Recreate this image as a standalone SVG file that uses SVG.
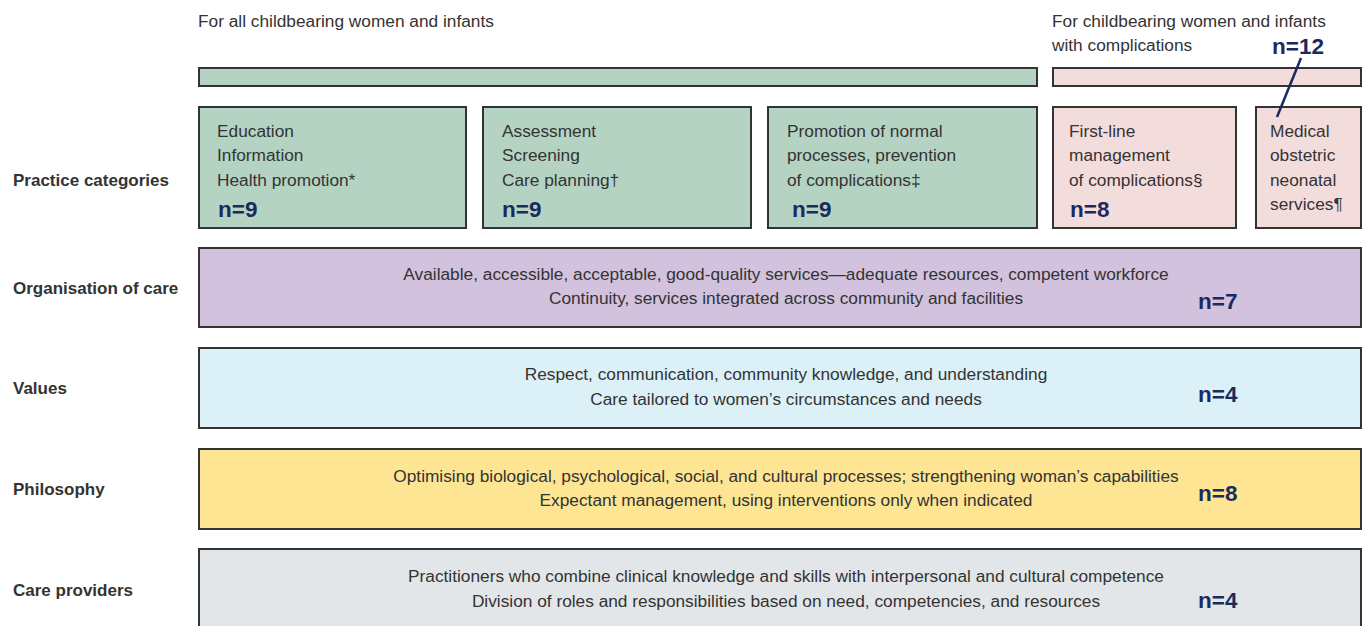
<svg xmlns="http://www.w3.org/2000/svg" width="1365" height="626" viewBox="0 0 1365 626">
<style>
text{font-family:"Liberation Sans",Arial,sans-serif;fill:#333;}
.t{font-size:17.3px;}
.lab{font-size:17px;font-weight:bold;fill:#333;}
.n{font-size:22.5px;font-weight:bold;fill:#1b2a5e;}
.c{text-anchor:middle;}
.b{stroke:#333;stroke-width:2;}
.g{fill:#b5d3c2;}
.p{fill:#f3dcdc;}
</style>
<rect width="1365" height="626" fill="#fff"/>
<g id="headers">
<text class="t" x="198" y="27">For all childbearing women and infants</text>
<text class="t" x="1052" y="27">For childbearing women and infants</text>
<text class="t" x="1052" y="51">with complications</text>
<rect class="b g" x="199" y="68" width="838" height="18"/>
<rect class="b p" x="1053" y="68" width="308" height="18"/>
</g>
<g id="labels">
<text class="lab" x="13" y="186">Practice categories</text>
<text class="lab" x="13" y="294">Organisation of care</text>
<text class="lab" x="13" y="394">Values</text>
<text class="lab" x="13" y="495">Philosophy</text>
<text class="lab" x="13" y="596">Care providers</text>
</g>
<g id="box-education">
<rect class="b g" x="199" y="107" width="267" height="121"/>
<text class="t" x="217" y="137">Education</text>
<text class="t" x="217" y="161">Information</text>
<text class="t" x="217" y="186">Health promotion*</text>
<text class="n" x="218" y="217">n=9</text>
</g>
<g id="box-assessment">
<rect class="b g" x="483" y="107" width="268" height="121"/>
<text class="t" x="502" y="137">Assessment</text>
<text class="t" x="502" y="161">Screening</text>
<text class="t" x="502" y="186">Care planning†</text>
<text class="n" x="502" y="217">n=9</text>
</g>
<g id="box-promotion">
<rect class="b g" x="768" y="107" width="269" height="121"/>
<text class="t" x="787" y="137">Promotion of normal</text>
<text class="t" x="787" y="161">processes, prevention</text>
<text class="t" x="787" y="186">of complications‡</text>
<text class="n" x="792" y="217">n=9</text>
</g>
<g id="box-firstline">
<rect class="b p" x="1053" y="107" width="183" height="121"/>
<text class="t" x="1069" y="137">First-line</text>
<text class="t" x="1069" y="161">management</text>
<text class="t" x="1069" y="186">of complications§</text>
<text class="n" x="1070" y="217">n=8</text>
</g>
<g id="box-medical">
<rect class="b p" x="1256" y="107" width="105" height="121"/>
<text class="t" x="1270" y="137">Medical</text>
<text class="t" x="1270" y="161">obstetric</text>
<text class="t" x="1270" y="186">neonatal</text>
<text class="t" x="1270" y="210">services¶</text>
<text class="n" x="1272" y="54">n=12</text>
</g>
<g id="box-organisation">
<rect class="b" x="199" y="248" width="1162" height="79" fill="#d2c2dd"/>
<text class="t c" x="786" y="280">Available, accessible, acceptable, good-quality services—adequate resources, competent workforce</text>
<text class="t c" x="786" y="304">Continuity, services integrated across community and facilities</text>
<text class="n" x="1198" y="309">n=7</text>
</g>
<g id="box-values">
<rect class="b" x="199" y="348" width="1162" height="80" fill="#dcf0f7"/>
<text class="t c" x="786" y="380">Respect, communication, community knowledge, and understanding</text>
<text class="t c" x="786" y="405">Care tailored to women’s circumstances and needs</text>
<text class="n" x="1198" y="402">n=4</text>
</g>
<g id="box-philosophy">
<rect class="b" x="199" y="449" width="1162" height="80" fill="#fde594"/>
<text class="t c" x="786" y="482">Optimising biological, psychological, social, and cultural processes; strengthening woman’s capabilities</text>
<text class="t c" x="786" y="506">Expectant management, using interventions only when indicated</text>
<text class="n" x="1198" y="501">n=8</text>
</g>
<g id="box-providers">
<rect class="b" x="199" y="549" width="1162" height="80" fill="#e3e6e9"/>
<text class="t c" x="786" y="582">Practitioners who combine clinical knowledge and skills with interpersonal and cultural competence</text>
<text class="t c" x="786" y="607">Division of roles and responsibilities based on need, competencies, and resources</text>
<text class="n" x="1198" y="608">n=4</text>
</g>
<g id="connectors">
<line x1="1301" y1="58" x2="1277" y2="117" stroke="#1b2a5e" stroke-width="2.5"/>
</g>
</svg>
